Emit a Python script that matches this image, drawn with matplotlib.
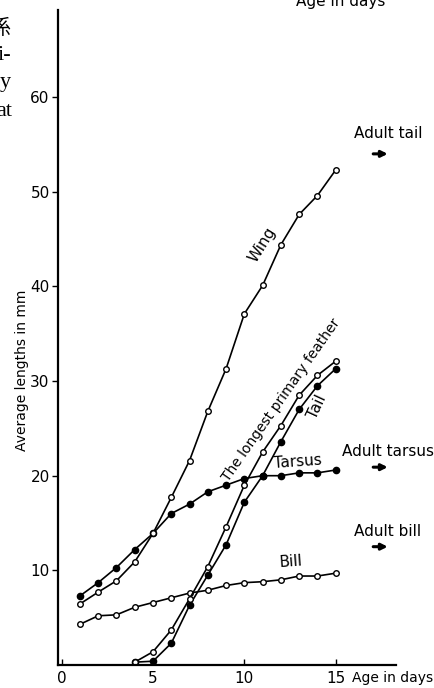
import numpy as np
import matplotlib.pyplot as plt

# age in days
days = np.arange(1, 16)
days_late = np.arange(4, 16)

# average lengths in mm
wing = [6.45, 7.7, 8.9, 10.9, 13.9, 17.7, 21.6, 26.8, 31.3, 37.1, 40.1, 44.4, 47.6, 49.6, 52.3]
tarsus = [7.3, 8.7, 10.3, 12.2, 13.9, 16.0, 17.0, 18.3, 19.0, 19.7, 20.0, 20.0, 20.3, 20.3, 20.6]
bill = [4.3, 5.2, 5.3, 6.1, 6.6, 7.1, 7.6, 7.9, 8.4, 8.7, 8.8, 9.0, 9.4, 9.4, 9.7]
tail = [0.3, 0.4, 2.3, 6.3, 9.5, 12.7, 17.2, 20.0, 23.6, 27.0, 29.5, 31.3]
feather = [0.3, 1.4, 3.7, 7.0, 10.4, 14.6, 19.0, 22.5, 25.3, 28.5, 30.6, 32.1]

# adult values shown by arrows
adult_names = ["Adult tail", "Adult tarsus", "Adult bill"]
adult_vals = [54.0, 20.9, 12.5]

W, H = 435, 688
fig = plt.figure(figsize=(W / 100, H / 100), dpi=100)
ax = fig.add_axes([58 / W, 23 / H, 338 / W, 655 / H])

open_kw = dict(color="black", lw=1.2, marker="o", ms=4, mfc="white", mec="black", mew=1.0)
fill_kw = dict(color="black", lw=1.2, marker="o", ms=4.5, mfc="black", mec="black")

ax.plot(days, bill, **open_kw)
ax.plot(days, tarsus, **fill_kw)
ax.plot(days, wing, **open_kw)
ax.plot(days_late, tail, **fill_kw)
ax.plot(days_late, feather, **open_kw)

ax.set_xlim(-0.2, 18.3)
ax.set_ylim(0, 69.2)
ax.set_xticks([0, 5, 10, 15])
ax.set_yticks([10, 20, 30, 40, 50, 60])
ax.tick_params(axis="x", direction="in", length=4, width=1, labelsize=11, pad=4)
ax.tick_params(axis="y", direction="out", length=4, width=1, labelsize=11, pad=2)
for s in ["top", "right"]:
    ax.spines[s].set_visible(False)
for s in ["left", "bottom"]:
    ax.spines[s].set_linewidth(1.6)

# curve labels
def px(x, y):
    return ((x - 61.7) / 18.27, (665 - y) / 9.46)

lab = dict(fontsize=11, ha="center", va="center", rotation_mode="anchor")
ax.text(*px(262, 245), "Wing", rotation=58, **lab)
ax.text(*px(281, 400), "The longest primary feather", rotation=55, fontsize=10,
        ha="center", va="center", rotation_mode="anchor")
ax.text(*px(317, 407), "Tail", rotation=65, **lab)
ax.text(*px(298, 462), "Tarsus", rotation=4, **lab)
ax.text(*px(291, 562), "Bill", rotation=4, **lab)

# adult arrows
text_y = [133, 451, 531]
for name, v, ty in zip(adult_names, adult_vals, text_y):
    ax.annotate("", xy=(18.0, v), xytext=(16.9, v),
                arrowprops=dict(arrowstyle="-|>", lw=2.2, color="black", mutation_scale=9))
    fig.text(388 / W, 1 - ty / H, name, fontsize=11, ha="center", va="center")

fig.text(22 / W, 1 - 370 / H, "Average lengths in mm", rotation=90, fontsize=10,
         ha="center", va="center")
fig.text(352 / W, 1 - 678 / H, "Age in days", fontsize=10, ha="left", va="center")
fig.text(341 / W, 1 - 6 / H, "Age in days", fontsize=11, ha="center", va="baseline")

# cropped text from the page at the left
fig.text(0, 1 - 28 / H, "係", fontsize=15, ha="center", va="center",
         family=["Noto Sans CJK JP", "DejaVu Sans"])
fig.text(11 / W, 1 - 55 / H, "i-", fontsize=16, ha="right", va="center", family="Liberation Serif")
fig.text(11 / W, 1 - 83 / H, "y", fontsize=16, ha="right", va="center", family="Liberation Serif")
fig.text(12 / W, 1 - 111 / H, "at", fontsize=16, ha="right", va="center", family="Liberation Serif")

fig.savefig("out.png", dpi=100)
